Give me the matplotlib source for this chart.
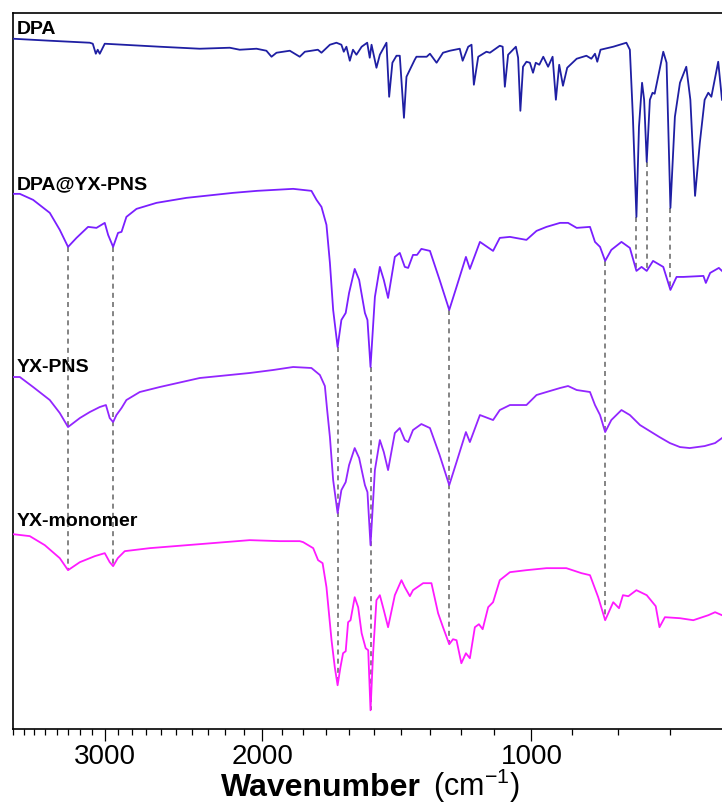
#!/usr/bin/env python3
"""FTIR spectra of DPA, DPA@YX-PNS, YX-PNS and YX-monomer (stacked, log wavenumber axis)."""

import matplotlib

matplotlib.use("Agg")
import matplotlib.pyplot as plt
import numpy as np
from matplotlib.ticker import FixedFormatter, FixedLocator, NullFormatter

plt.rcParams["font.family"] = ["Liberation Sans", "DejaVu Sans"]
plt.rcParams["mathtext.fontset"] = "custom"
plt.rcParams["mathtext.rm"] = "Liberation Sans"
plt.rcParams["mathtext.it"] = "Liberation Sans:italic"
plt.rcParams["mathtext.bf"] = "Liberation Sans:bold"

# ---- data (wavenumber in cm-1, stacked intensity in a.u.) ----
DPA_WN = [3807, 3460, 3121, 3097, 3073, 3058, 3042, 3003, 2606, 2351, 2176, 2121,
          2031, 1980, 1954, 1929, 1864, 1817, 1793, 1734, 1718, 1681, 1653, 1632,
          1622, 1611, 1597, 1584, 1570, 1549, 1527, 1517, 1510, 1491, 1478, 1453,
          1443, 1431, 1416, 1404, 1389, 1380, 1368, 1351, 1345, 1310, 1299, 1277,
          1256, 1234, 1203, 1194, 1177, 1167, 1160, 1147, 1123, 1113, 1085, 1077,
          1071, 1062, 1041, 1035, 1029, 1022, 1013, 1004, 996, 989, 980, 970, 958,
          947, 939, 931, 922, 912, 890, 868, 857, 849, 844, 837, 810, 783, 776, 770,
          763, 758, 752, 748, 743, 737, 732, 728, 712, 706, 699, 691, 682, 671, 664,
          656, 648, 640, 634, 629, 618, 612]
DPA_AU = [690, 688, 686, 685, 675, 679, 675, 685, 682, 680, 681, 679,
          680, 678, 672, 676, 678, 672, 677, 679, 676, 684, 686, 684,
          677, 682, 668, 679, 674, 682, 686, 671, 684, 661, 674, 686,
          632, 666, 673, 673, 611, 652, 659, 669, 672, 672, 675, 666,
          676, 678, 680, 668, 682, 684, 644, 672, 677, 676, 683, 682,
          642, 674, 682, 671, 618, 662, 667, 666, 656, 666, 664, 672, 662,
          672, 629, 664, 643, 661, 670, 673, 670, 675, 667, 679, 682, 686, 679, 612,
          512, 602, 646, 629, 567, 629, 636, 635, 677, 666, 521, 612, 646, 662, 629,
          533, 586, 629, 636, 632, 667, 629]

DPA_PNS_WN = [3807, 3738, 3612, 3460, 3372, 3301, 3230, 3135, 3068, 3003, 2977, 2939,
              2902, 2876, 2840, 2767, 2628, 2433, 2157, 2028, 1848, 1763, 1740, 1718,
              1696, 1681, 1667, 1648, 1632, 1614, 1600, 1577, 1559, 1536, 1526, 1514,
              1497, 1478, 1463, 1447, 1422, 1404, 1386, 1374, 1357, 1343, 1328, 1299,
              1267, 1236, 1213, 1184, 1172, 1142, 1104, 1085, 1057, 1013, 987, 962,
              929, 910, 890, 860, 849, 838, 827, 814, 793, 776, 763, 753, 743, 731,
              712, 699, 688, 676, 642, 638, 631, 617, 612]
DPA_PNS_AU = [535, 535, 529, 516, 499, 482, 491, 502, 501, 506, 494, 482,
              496, 497, 512, 520, 526, 531, 536, 538, 540, 538, 529, 522,
              504, 466, 419, 382, 409, 416, 436, 460, 449, 416, 409, 362,
              432, 462, 449, 431, 472, 476, 462, 461, 474, 474, 480, 478,
              449, 419, 442, 472, 460, 487, 478, 491, 492, 489, 498, 502,
              506, 506, 501, 502, 487, 482, 468, 479, 487, 481, 458, 462, 458, 468,
              462, 439, 452, 452, 453, 446, 456, 461, 458]

PNS_WN = [3807, 3738, 3612, 3460, 3372, 3301, 3202, 3121, 3042, 2994, 2965, 2939,
          2914, 2876, 2840, 2744, 2606, 2351, 2067, 1946, 1848, 1763, 1725, 1703,
          1693, 1681, 1667, 1648, 1632, 1614, 1600, 1577, 1559, 1536, 1526, 1514,
          1497, 1478, 1463, 1447, 1422, 1404, 1386, 1374, 1357, 1328, 1299, 1267,
          1236, 1213, 1184, 1172, 1142, 1104, 1085, 1057, 1013, 987, 962, 929, 910,
          890, 860, 849, 838, 827, 814, 793, 776, 756, 719, 700, 682, 665, 640, 623, 612]
PNS_AU = [352, 352, 342, 329, 316, 302, 311, 317, 322, 324, 311, 307,
          314, 321, 329, 337, 342, 351, 356, 359, 362, 361, 354, 343,
          319, 292, 249, 216, 239, 247, 264, 281, 271, 244, 237, 184,
          259, 289, 277, 259, 296, 301, 289, 287, 299, 305, 301, 274,
          244, 267, 297, 287, 314, 309, 319, 324, 324, 334, 337, 341, 343,
          339, 337, 324, 314, 297, 309, 319, 314, 304, 292, 286, 282, 281, 283, 286, 291]

MONO_WN = [3807, 3643, 3505, 3372, 3301, 3202, 3081, 3003, 2965, 2939, 2904, 2852,
           2674, 2351, 2067, 1913, 1817, 1801, 1755, 1733, 1713, 1696, 1674, 1660,
           1648, 1636, 1625, 1614, 1604, 1594, 1577, 1563, 1549, 1533, 1523, 1514,
           1504, 1491, 1478, 1463, 1447, 1422, 1398, 1386, 1368, 1357, 1322, 1294,
           1272, 1256, 1236, 1224, 1213, 1198, 1184, 1172, 1157, 1145, 1134, 1118,
           1104, 1085, 1057, 1013, 962, 914, 879, 860, 842, 827, 810, 798, 790, 779,
           763, 743, 726, 719, 709, 682, 659, 634, 623, 612]
MONO_AU = [195, 193, 184, 171, 159, 167, 173, 176, 167, 163, 171, 178,
           181, 185, 189, 188, 188, 187, 181, 169, 166, 142, 89, 62,
           44, 62, 76, 78, 107, 109, 132, 122, 96, 81, 79, 19,
           76, 129, 134, 119, 102, 134, 149, 142, 133, 139, 146, 146,
           116, 102, 85, 90, 89, 66, 76, 71, 102, 105, 100, 122,
           127, 149, 157, 159, 161, 161, 156, 154, 132, 109, 127, 121, 134, 133,
           139, 134, 123, 102, 112, 111, 109, 114, 117, 114]

SERIES = [
    ("DPA", DPA_WN, DPA_AU, "#1f1fa3", 695),
    ("DPA@YX-PNS", DPA_PNS_WN, DPA_PNS_AU, "#7a1fff", 540),
    ("YX-PNS", PNS_WN, PNS_AU, "#9326ff", 357),
    ("YX-monomer", MONO_WN, MONO_AU, "#ff1aff", 203),
]

# dashed guides: lower set joins DPA@YX-PNS to YX-monomer, upper set joins DPA to DPA@YX-PNS
GUIDES_LOW = [3301, 2939, 1648, 1514, 1236, 827]
GUIDES_HIGH = [763, 743, 699]

MAJOR_TICKS = [1000, 2000, 3000]
MINOR_TICKS = [700, 800, 900, 1100, 1200, 1300, 1400, 1500, 1600, 1700, 1800, 1900,
               2100, 2200, 2300, 2400, 2500, 2600, 2700, 2800, 2900,
               3100, 3200, 3300, 3400, 3500, 3600, 3700, 3800]


def value_at(wn, au, x):
    wn = np.asarray(wn, dtype=float)[::-1]
    au = np.asarray(au, dtype=float)[::-1]
    return float(np.interp(x, wn, au))


def main() -> None:
    fig = plt.figure(figsize=(7.22, 8.09), dpi=100)
    ax = fig.add_axes([12.7 / 722, 79.7 / 809, 709.3 / 722, 716.6 / 809])

    for x in GUIDES_LOW:
        y0 = value_at(DPA_PNS_WN, DPA_PNS_AU, x)
        y1 = value_at(MONO_WN, MONO_AU, x)
        ax.plot([x, x], [y0, y1], color="#707070", lw=1.2, ls=(0, (3, 2.5)), zorder=1)
    for x in GUIDES_HIGH:
        y0 = value_at(DPA_WN, DPA_AU, x)
        y1 = value_at(DPA_PNS_WN, DPA_PNS_AU, x)
        ax.plot([x, x], [y0, y1], color="#707070", lw=1.2, ls=(0, (3, 2.5)), zorder=1)

    for name, wn, au, color, label_y in SERIES:
        ax.plot(wn, au, color=color, lw=1.3, zorder=3, solid_joinstyle="round")
        ax.text(3770, label_y, name, fontsize=14, fontweight="bold", ha="left",
                va="baseline", color="black", zorder=4)

    ax.set_xscale("log")
    ax.set_xlim(3807, 612)
    ax.set_ylim(0, 716)
    ax.xaxis.set_major_locator(FixedLocator(MAJOR_TICKS))
    ax.xaxis.set_minor_locator(FixedLocator(MINOR_TICKS))
    ax.xaxis.set_major_formatter(FixedFormatter([str(t) for t in MAJOR_TICKS]))
    ax.xaxis.set_minor_formatter(NullFormatter())
    ax.tick_params(axis="x", which="major", direction="out", length=8.5, width=0.9,
                   labelsize=20, pad=2)
    ax.tick_params(axis="x", which="minor", direction="out", length=4, width=0.9)
    ax.set_yticks([])
    ax.spines["right"].set_visible(False)
    for side in ("left", "top", "bottom"):
        ax.spines[side].set_linewidth(1.2)

    fig.text(421 / 722, 13 / 809, "Wavenumber", fontsize=23, fontweight="bold",
             ha="right", va="baseline")
    fig.text(433 / 722, 13 / 809, "(cm$^{-1}$)", fontsize=22, ha="left", va="baseline")

    fig.savefig("out.png", dpi=100)
    plt.close(fig)


if __name__ == "__main__":
    main()
